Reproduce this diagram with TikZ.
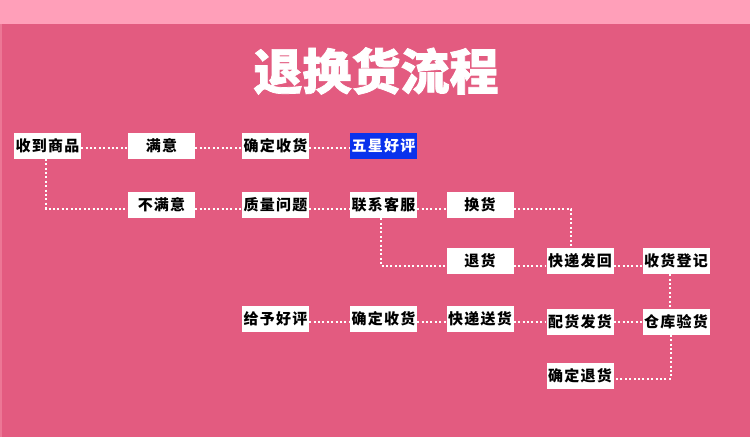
\documentclass[tikz,border=0pt]{standalone}
\usepackage{fontspec}
\newfontfamily\cjk{Noto Sans CJK SC}[LetterSpace=8]
\newfontfamily\cjktitle{Noto Sans CJK SC}[BoldFeatures={FakeBold=1.5}]
\definecolor{bgmain}{HTML}{E35B80}
\definecolor{bgband}{HTML}{FF9FB9}
\definecolor{bgedge}{HTML}{EC7795}
\definecolor{starblue}{HTML}{0A32EC}
\begin{document}
\begin{tikzpicture}[x=1pt,y=-1pt,
  box/.style={fill=white,minimum width=67pt,minimum height=26pt,inner sep=0pt,
    font=\cjk\bfseries\fontsize{15pt}{17pt}\selectfont,text=black},
  starbox/.style={box,fill=starblue,text=white},
  link/.style={draw=white,line width=2pt,dash pattern=on 2pt off 2.4pt}]
\useasboundingbox (0,0) rectangle (750,437);
\fill[bgmain] (0,0) rectangle (750,437);
\fill[bgband] (0,0) rectangle (750,24);
\fill[bgedge] (0,24) rectangle (2,437);
\node[text=white,font=\cjktitle\bfseries\fontsize{49pt}{52pt}\selectfont] (title) at (376,71) {退换货流程};
% row 1
\node[box] (a1) at (47.5,145.5) {收到商品};
\node[box] (a2) at (161.5,145.5) {满意};
\node[box] (a3) at (275.5,145.5) {确定收货};
\node[starbox] (a4) at (383.5,145.5) {五星好评};
% row 2
\node[box] (b2) at (161.5,205) {不满意};
\node[box] (b3) at (275.5,205) {质量问题};
\node[box] (b4) at (383.5,205) {联系客服};
\node[box] (b5) at (480,205) {换货};
% row 3
\node[box] (c5) at (480,261) {退货};
\node[box] (c6) at (580,261) {快递发回};
\node[box] (c7) at (676,261) {收货登记};
% row 4
\node[box] (d3) at (275.5,319) {给予好评};
\node[box] (d4) at (383.5,319) {确定收货};
\node[box] (d5) at (480,319) {快递送货};
\node[box] (d6) at (580,321.5) {配货发货};
\node[box] (d7) at (676,321.5) {仓库验货};
% row 5
\node[box] (e6) at (580,376) {确定退货};
% connectors
\coordinate (k1) at (46,209);
\coordinate (k2) at (571,209);
\coordinate (k3) at (381,266);
\coordinate (k4) at (671,378.5);
\draw[link] ([yshift=-2.5pt]a1.east) -- ([yshift=-2.5pt]a2.west);
\draw[link] ([yshift=-2.5pt]a2.east) -- ([yshift=-2.5pt]a3.west);
\draw[link] ([yshift=-2.5pt]a3.east) -- ([yshift=-2.5pt]a4.west);
\draw[link] (a1.south -| k1) -- (k1) -- (k1 -| b2.west);
\draw[link] (b2.east |- k1) -- (b3.west |- k1);
\draw[link] (b3.east |- k1) -- (b4.west |- k1);
\draw[link] (b4.east |- k1) -- (b5.west |- k1);
\draw[link] (b5.east |- k2) -- (k2) -- (k2 |- c6.north);
\draw[link] (b4.south -| k3) -- (k3) -- (k3 -| c5.west);
\draw[link] (c5.east |- k3) -- (c6.west |- k3);
\draw[link] (c6.east |- k3) -- (c7.west |- k3);
\draw[link] ([xshift=-6pt]c7.south) -- ([xshift=-6pt]c7.south |- d7.north);
\draw[link] ([yshift=-3pt]d3.east) -- ([yshift=-3pt]d4.west);
\draw[link] ([yshift=-3pt]d4.east) -- ([yshift=-3pt]d5.west);
\draw[link] ([yshift=-3pt]d5.east) -- ([yshift=-0.5pt]d6.west);
\draw[link] ([yshift=-0.5pt]d6.east) -- ([yshift=-0.5pt]d7.west);
\draw[link] (d7.south -| k4) -- (k4) -- (k4 -| e6.east);
\end{tikzpicture}
\end{document}
